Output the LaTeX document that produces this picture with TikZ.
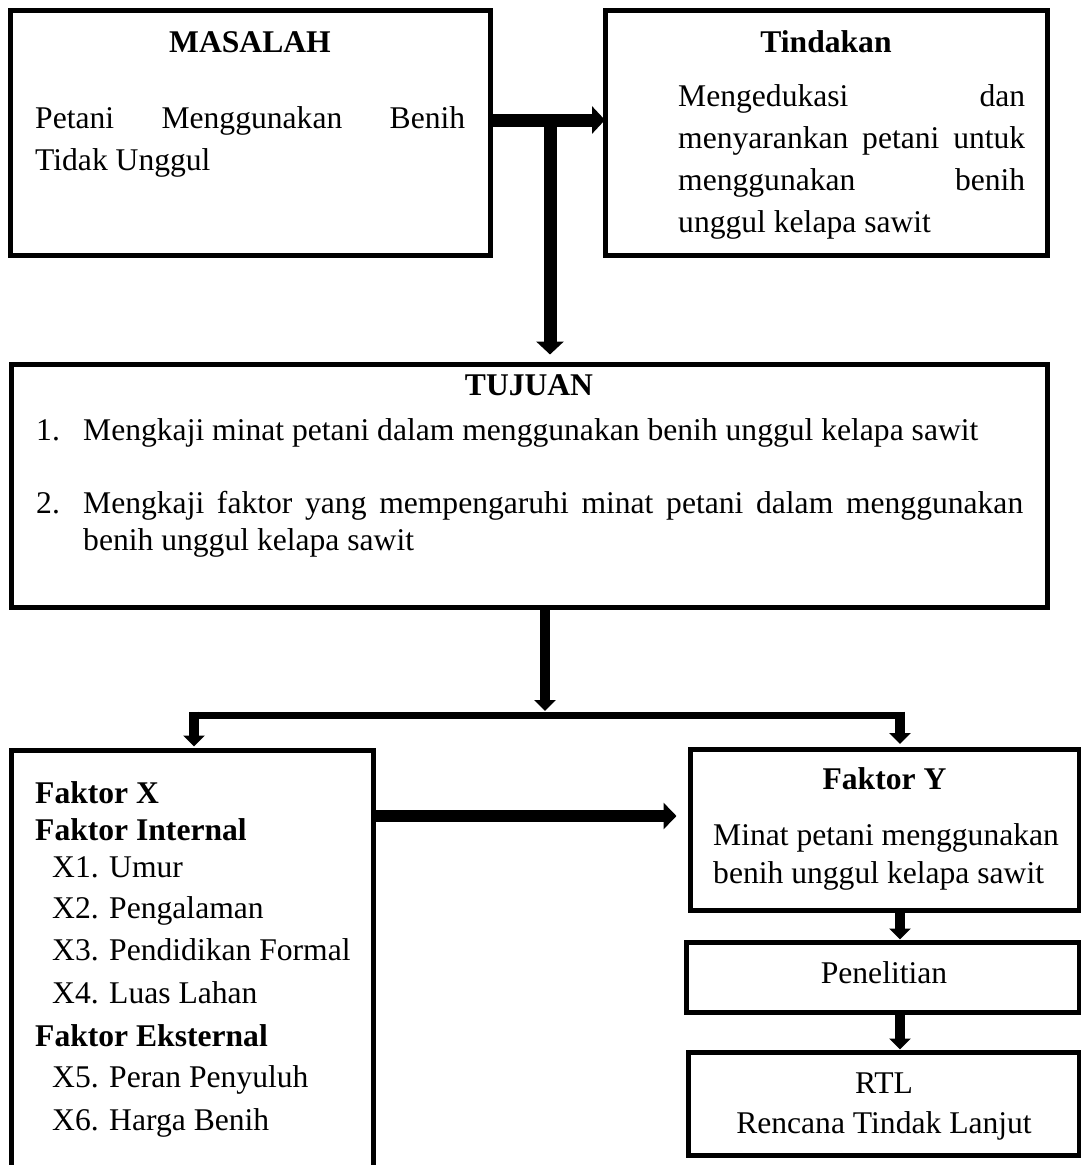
\documentclass[tikz,border=0pt]{standalone}
\usepackage{fontspec}
\setmainfont{Liberation Serif}
\usetikzlibrary{arrows.meta}
\begin{document}
\begin{tikzpicture}[x=1pt,y=-1pt,
  box/.style={draw=black,line width=5pt,rectangle,inner sep=0pt,anchor=center},
  txt/.style={inner sep=0pt,font=\fontsize{31.6}{42}\selectfont},
  bold/.style={font=\fontsize{31.6}{42}\selectfont\bfseries},
  bigarrow/.style={line width=13pt,-{Triangle[length=13pt,width=27pt]}},
  midarrow/.style={line width=12pt,-{Triangle[length=13pt,width=26pt]}},
  smallarrow/.style={line width=10pt,-{Triangle[length=11pt,width=21pt]}},
  barline/.style={line width=7pt}]
\fill[white] (0,0) rectangle (1081,1165);
\useasboundingbox (0,0) rectangle (1081,1165);

% boxes
\node[box,minimum width=480pt,minimum height=245pt] (mas) at (250,132.5) {};
\node[box,minimum width=442pt,minimum height=245pt] (tin) at (826,132.5) {};
\node[box,minimum width=1036pt,minimum height=243pt] (tuj) at (529,485.5) {};
\node[box,minimum width=362pt,minimum height=460pt] (fx) at (192,980) {};
\node[box,minimum width=389pt,minimum height=161pt] (fy) at (884.5,829.5) {};
\node[box,minimum width=393pt,minimum height=70pt] (pen) at (882.5,977) {};
\node[box,minimum width=391pt,minimum height=103pt] (rtl) at (883.5,1103.5) {};

% MASALAH text
\node[txt,bold,anchor=base] (masT) at (250,52) {MASALAH};
\node[txt,anchor=base west] (mas1) at (35,128) {\makebox[430pt][l]{Petani\hfill Menggunakan\hfill Benih}};
\node[txt,anchor=base west] (mas2) at (35,170) {Tidak Unggul};

% Tindakan text
\node[txt,bold,anchor=base] (tinT) at (826,52) {Tindakan};
\node[txt,anchor=base west] (tin1) at (678,106) {\makebox[347pt][l]{Mengedukasi\hfill dan}};
\node[txt,anchor=base west] (tin2) at (678,148) {\makebox[347pt][l]{menyarankan\hfill petani\hfill untuk}};
\node[txt,anchor=base west] (tin3) at (678,190) {\makebox[347pt][l]{menggunakan\hfill benih}};
\node[txt,anchor=base west] (tin4) at (678,232) {unggul kelapa sawit};

% TUJUAN text
\node[txt,bold,anchor=base] (tujT) at (529,395) {TUJUAN};
\node[txt,anchor=base west] (tujn1) at (36,440) {1.};
\node[txt,anchor=base west] (tuj1) at (83,440) {Mengkaji minat petani dalam menggunakan benih unggul kelapa sawit};
\node[txt,anchor=base west] (tujn2) at (36,513) {2.};
\node[txt,anchor=base west] (tuj2) at (83,513) {\makebox[940pt][l]{Mengkaji\hfill faktor\hfill yang\hfill mempengaruhi\hfill minat\hfill petani\hfill dalam\hfill menggunakan}};
\node[txt,anchor=base west] (tuj3) at (83,550) {benih unggul kelapa sawit};

% Faktor X text
\node[txt,bold,anchor=base west] (fxT) at (35,803) {Faktor X};
\node[txt,bold,anchor=base west] (fxI) at (35,840) {Faktor Internal};
\node[txt,anchor=base west] (x1) at (52,877) {X1. Umur};
\node[txt,anchor=base west] (x2) at (52,918) {X2. Pengalaman};
\node[txt,anchor=base west] (x3) at (52,960) {X3. Pendidikan Formal};
\node[txt,anchor=base west] (x4) at (52,1003) {X4. Luas Lahan};
\node[txt,bold,anchor=base west] (fxE) at (35,1046) {Faktor Eksternal};
\node[txt,anchor=base west] (x5) at (52,1087) {X5. Peran Penyuluh};
\node[txt,anchor=base west] (x6) at (52,1130) {X6. Harga Benih};

% Faktor Y text
\node[txt,bold,anchor=base] (fyT) at (884.5,789) {Faktor Y};
\node[txt,anchor=base west] (fy1) at (713,845) {Minat petani menggunakan};
\node[txt,anchor=base west] (fy2) at (713,883) {benih unggul kelapa sawit};

% Penelitian, RTL text
\node[txt,anchor=base] (penT) at (884,983) {Penelitian};
\node[txt,anchor=base] (rtlT) at (884,1093) {RTL};
\node[txt,anchor=base] (rtl2) at (884,1133) {Rencana Tindak Lanjut};

% junction coordinates
\coordinate (j1) at (550,120);
\coordinate (j2) at (545,715);
\coordinate (jl) at (194,715);
\coordinate (jr) at (900,715);
\coordinate (jx) at (377,816);

% connectors
\draw[bigarrow] (mas.east |- j1) -- ([xshift=2.5pt]tin.west |- j1);
\draw[bigarrow] (j1) -- ([yshift=7pt]tuj.north -| j1);
\draw[smallarrow] (tuj.south -| j2) -- ([yshift=4pt]j2);
\draw[barline] ([xshift=-5pt]jl) -- ([xshift=5pt]jr);
\draw[smallarrow] ([yshift=3.5pt]jl) -- ([yshift=1pt]fx.north -| jl);
\draw[smallarrow] ([yshift=3.5pt]jr) -- ([yshift=2.5pt]fy.north -| jr);
\draw[midarrow] (fx.east |- jx) -- ([xshift=-11pt]fy.west |- jx);
\draw[smallarrow] (fy.south -| jr) -- (pen.north -| jr);
\draw[smallarrow] (pen.south -| jr) -- (rtl.north -| jr);
\end{tikzpicture}
\end{document}
